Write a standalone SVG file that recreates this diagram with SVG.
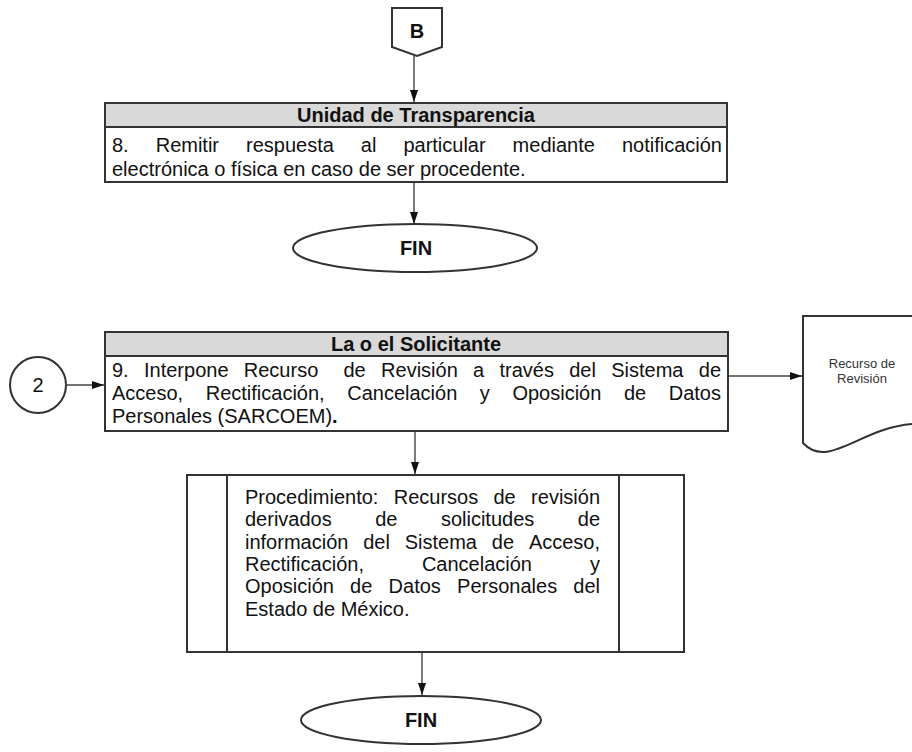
<svg xmlns="http://www.w3.org/2000/svg" width="912" height="752" viewBox="0 0 912 752">
<defs>
<marker id="ah" viewBox="0 0 12 8" refX="12" refY="4" markerWidth="12" markerHeight="8" orient="auto" markerUnits="userSpaceOnUse">
<path d="M0,0 L12,4 L0,8 z" fill="#111"/>
</marker>
<style>
.shape{fill:#fff;stroke:#333;stroke-width:2}
.hdr{fill:#d9d9d9;stroke:#333;stroke-width:2}
.t{font-family:"Liberation Sans",Arial,sans-serif;font-size:20px;fill:#111}
.b{font-weight:bold}
.c{text-anchor:middle}
.conn{fill:none;stroke:#444;stroke-width:1.4}
.small{font-family:"Liberation Sans",Arial,sans-serif;font-size:13px;fill:#333;text-anchor:middle}
</style>
</defs>
<g id="connectors">
<path class="conn" d="M414,56 V102" marker-end="url(#ah)"/>
<path class="conn" d="M414,182 V224" marker-end="url(#ah)"/>
<path class="conn" d="M67,385 H104" marker-end="url(#ah)"/>
<path class="conn" d="M729,376 H802" marker-end="url(#ah)"/>
<path class="conn" d="M415,431 V474" marker-end="url(#ah)"/>
<path class="conn" d="M422,653 V695" marker-end="url(#ah)"/>
</g>
<g id="nodeB">
<path class="shape" d="M392,8 H442 V47 L417,56 L392,47 Z"/>
<text class="t b c" x="417" y="38">B</text>
</g>
<g id="node8">
<rect class="hdr" x="105" y="103" width="622" height="24"/>
<rect class="shape" x="105" y="127" width="622" height="55"/>
<text class="t b c" x="416" y="122">Unidad de Transparencia</text>
<text class="t" y="152"><tspan x="112">8.</tspan> <tspan x="155.7">Remitir</tspan> <tspan x="246">respuesta</tspan> <tspan x="360.8">al</tspan> <tspan x="403.4">particular</tspan> <tspan x="512.6">mediante</tspan> <tspan x="621.9">notificación</tspan></text>
<text class="t" x="112" y="176">electrónica o física en caso de ser procedente.</text>
</g>
<g id="fin1">
<ellipse class="shape" cx="415" cy="248" rx="122" ry="24" stroke-width="1.6"/>
<text class="t b c" x="416" y="255" font-size="18">FIN</text>
</g>
<g id="conn2">
<circle class="shape" cx="38" cy="385" r="28" stroke-width="1.6"/>
<text class="t c" x="38" y="392">2</text>
</g>
<g id="node9">
<rect class="hdr" x="105" y="332" width="623" height="24"/>
<rect class="shape" x="105" y="356" width="623" height="75"/>
<text class="t b c" x="416" y="351">La o el Solicitante</text>
<text class="t" y="377"><tspan x="112">9.</tspan> <tspan x="144">Interpone</tspan> <tspan x="243.8">Recurso</tspan> <tspan x="343.5">de</tspan> <tspan x="381.1">Revisión</tspan> <tspan x="473.1">a</tspan> <tspan x="499.5">través</tspan> <tspan x="569.2">del</tspan> <tspan x="611.2">Sistema</tspan> <tspan x="698.8">de</tspan></text>
<text class="t" y="400"><tspan x="112">Acceso,</tspan> <tspan x="205.7">Rectificación,</tspan> <tspan x="347.2">Cancelación</tspan> <tspan x="479.8">y</tspan> <tspan x="512.4">Oposición</tspan> <tspan x="623.9">de</tspan> <tspan x="668.7">Datos</tspan></text>
<text class="t" x="112" y="423">Personales (SARCOEM)<tspan class="b">.</tspan></text>
</g>
<g id="docRecurso">
<path class="shape" d="M803,443 V316 H930 V424 H912 C860,428 828,470 803,443 Z" stroke-width="1.8"/>
<text class="small" x="862" y="368">Recurso de</text>
<text class="small" x="862" y="383">Revisión</text>
</g>
<g id="procedimiento">
<rect class="shape" x="187" y="475" width="497" height="177"/>
<line class="shape" x1="227" y1="475" x2="227" y2="652"/>
<line class="shape" x1="619" y1="475" x2="619" y2="652"/>
<text class="t" y="504"><tspan x="245">Procedimiento:</tspan> <tspan x="393.7">Recursos</tspan> <tspan x="493.5">de</tspan> <tspan x="531.1">revisión</tspan></text>
<text class="t" y="526.3"><tspan x="245">derivados</tspan> <tspan x="375.2">de</tspan> <tspan x="440.9">solicitudes</tspan> <tspan x="577.8">de</tspan></text>
<text class="t" y="548.6"><tspan x="245">información</tspan> <tspan x="363.2">del</tspan> <tspan x="404.7">Sistema</tspan> <tspan x="491.8">de</tspan> <tspan x="528.9">Acceso,</tspan></text>
<text class="t" y="570.9"><tspan x="245">Rectificación,</tspan> <tspan x="421.9">Cancelación</tspan> <tspan x="590">y</tspan></text>
<text class="t" y="593.2"><tspan x="245">Oposición</tspan> <tspan x="350.1">de</tspan> <tspan x="388.6">Datos</tspan> <tspan x="457.1">Personales</tspan> <tspan x="573.3">del</tspan></text>
<text class="t" x="245" y="615.5">Estado de México.</text>
</g>
<g id="fin2">
<ellipse class="shape" cx="421" cy="720" rx="120" ry="24" stroke-width="1.6"/>
<text class="t b c" x="421" y="727" font-size="18">FIN</text>
</g>
</svg>
